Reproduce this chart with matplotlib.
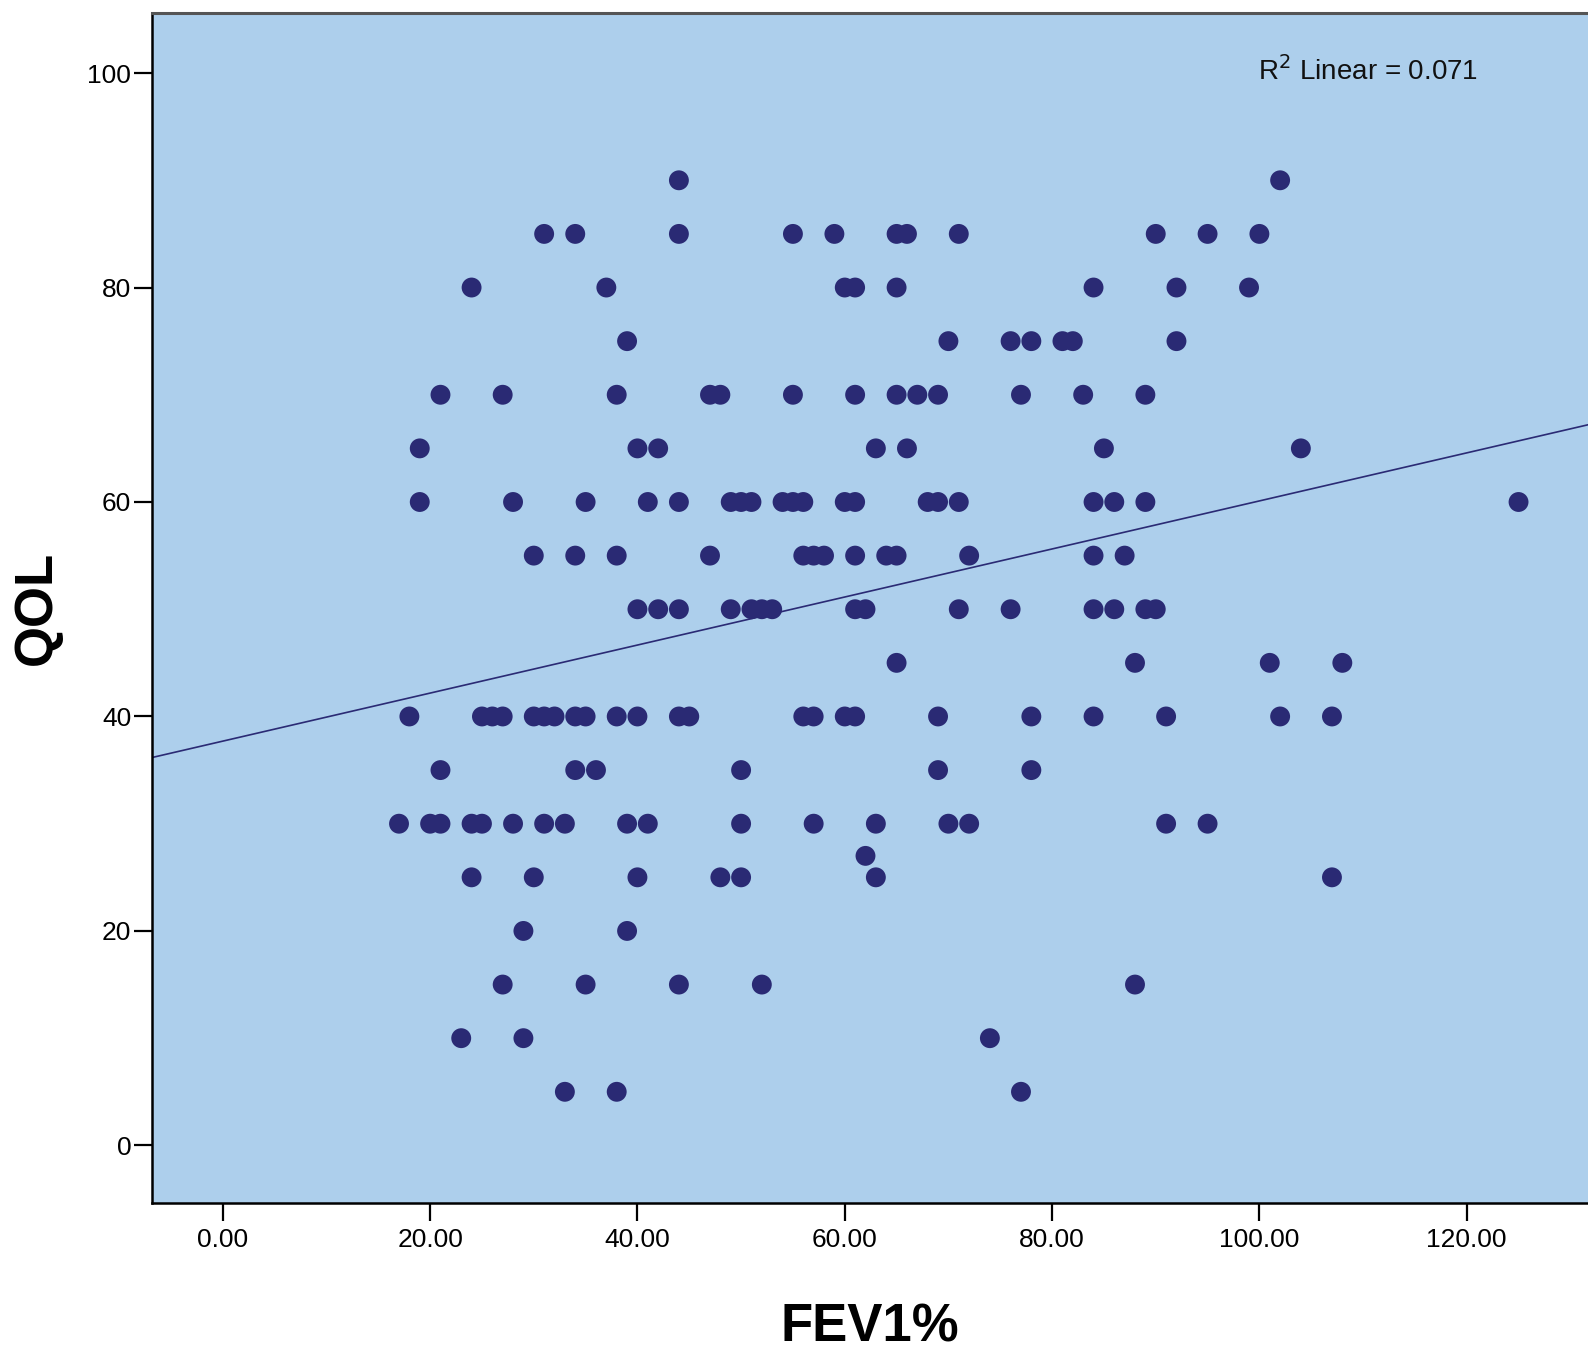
import numpy as np
import matplotlib
matplotlib.use("Agg")
import matplotlib.pyplot as plt

plt.rcParams['font.family'] = ['Liberation Sans', 'DejaVu Sans']

# QOL level -> FEV1% values at that level
qol_levels = [90, 85, 80, 75, 70, 65, 60, 55, 50, 45, 40, 35, 30, 27, 25, 20, 15, 10, 5]
fev_by_level = [
    [44, 102],
    [31, 34, 44, 55, 59, 65, 66, 71, 90, 95, 100],
    [24, 37, 60, 61, 65, 84, 92, 99],
    [39, 70, 76, 78, 81, 82, 92],
    [21, 27, 38, 47, 48, 55, 61, 65, 67, 69, 77, 83, 89],
    [19, 40, 42, 63, 66, 85, 104],
    [19, 28, 35, 41, 44, 49, 50, 51, 54, 55, 56, 60, 61, 68, 69, 71, 84, 86, 89, 125],
    [30, 34, 38, 47, 56, 57, 58, 61, 64, 65, 72, 84, 87],
    [40, 42, 44, 49, 51, 52, 53, 61, 62, 71, 76, 84, 86, 89, 90],
    [65, 88, 101, 108],
    [18, 25, 26, 27, 30, 31, 32, 34, 35, 38, 40, 44, 45, 56, 57, 60, 61, 69, 78, 84, 91, 102, 107],
    [21, 34, 36, 50, 69, 78],
    [17, 20, 21, 24, 25, 28, 31, 33, 39, 41, 50, 57, 63, 70, 72, 91, 95],
    [62],
    [24, 30, 40, 48, 50, 63, 107],
    [29, 39],
    [27, 35, 44, 52, 88],
    [23, 29, 74],
    [33, 38, 77],
]

# Linear fit shown in the picture (R^2 = 0.071)
fit_intercept = 37.7
fit_slope = 0.224

x_ticks = [0, 20, 40, 60, 80, 100, 120]
x_tick_labels = ["0.00", "20.00", "40.00", "60.00", "80.00", "100.00", "120.00"]
y_ticks = [0, 20, 40, 60, 80, 100]
y_tick_labels = ["0", "20", "40", "60", "80", "100"]
r2_text = r"R$^{2}$ Linear = 0.071"

fev = np.array([v for lst in fev_by_level for v in lst], dtype=float)
qol = np.array([lvl for lvl, lst in zip(qol_levels, fev_by_level) for _ in lst], dtype=float)

bg = '#ADCFEC'
navy = '#2A2A74'

fig = plt.figure(figsize=(15.88, 13.5), dpi=100)
ax = fig.add_axes([152/1588, (1350-1203)/1350, 1436/1588, 1190/1350])
ax.set_facecolor(bg)

ax.scatter(fev, qol, s=205, color=navy, edgecolors='none', zorder=3)

xlim = (-6.83, 131.7)
ylim = (-5.37, 105.6)
xl = np.array(xlim)
ax.plot(xl, fit_intercept + fit_slope * xl, color=navy, lw=1.2, zorder=2)

ax.set_xlim(*xlim)
ax.set_ylim(*ylim)
ax.set_xticks(x_ticks)
ax.set_xticklabels(x_tick_labels)
ax.set_yticks(y_ticks)
ax.set_yticklabels(y_tick_labels)
ax.tick_params(axis='both', direction='out', length=13, width=1.6, labelsize=19, colors='black')
ax.tick_params(axis='x', pad=5)
ax.tick_params(axis='y', pad=2)

for side in ['left', 'bottom']:
    ax.spines[side].set_linewidth(1.8)
    ax.spines[side].set_color('black')
ax.spines['top'].set_linewidth(2.2)
ax.spines['top'].set_color('#555555')
ax.spines['right'].set_visible(False)

ax.set_xlabel("FEV1%", fontsize=38, fontweight='bold', labelpad=36)
ax.set_ylabel("QOL", fontsize=38, fontweight='bold', labelpad=18)

ax.text(0.770, 0.951, r2_text, transform=ax.transAxes, fontsize=20,
        ha='left', va='center', color='#111111')

fig.savefig("out.png", dpi=100)
